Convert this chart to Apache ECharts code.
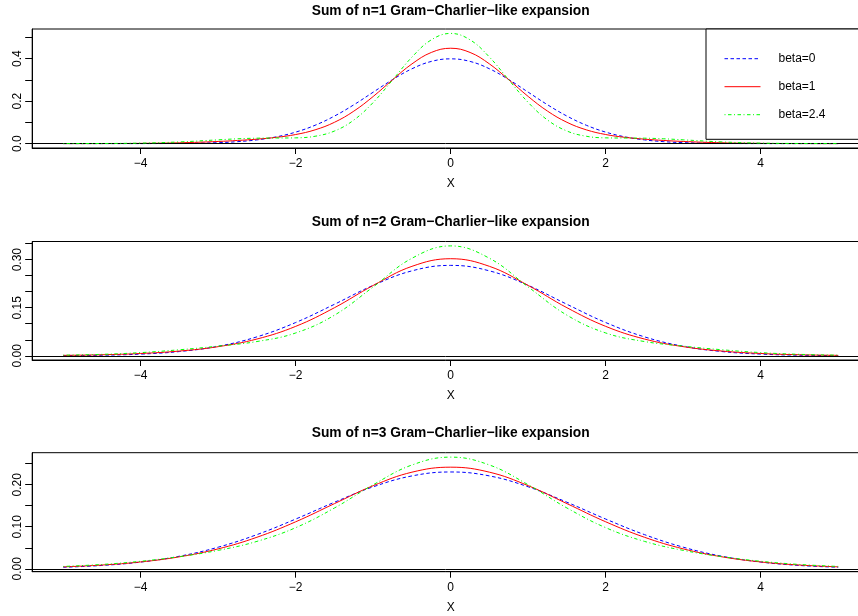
<!DOCTYPE html>
<html><head><meta charset="utf-8">
<script src="https://cdn.jsdelivr.net/npm/echarts@6/dist/echarts.min.js"></script>
<style>html,body{margin:0;padding:0;background:#fff}#c{width:858px;height:616px}</style>
</head><body><div id="c"></div>
<script>
// ---------- data ----------
const panelTitles = [
  'Sum of n=1 Gram\u2212Charlier\u2212like expansion',
  'Sum of n=2 Gram\u2212Charlier\u2212like expansion',
  'Sum of n=3 Gram\u2212Charlier\u2212like expansion'
];
const seriesNames = ['beta=0', 'beta=1', 'beta=2.4'];
const xLabelName = 'X';

const x1 = [-5,-4.5,-4,-3.5,-3,-2.75,-2.5,-2.25,-2,-1.75,-1.5,-1.25,-1,-0.75,-0.5,-0.25,0,
            0.25,0.5,0.75,1,1.25,1.5,1.75,2,2.25,2.5,2.75,3,3.5,4,4.5,5];
const blue1  = [0.0000,0.0000,0.0001,0.0009,0.0044,0.0091,0.0175,0.0317,0.0540,0.0863,0.1295,0.1826,0.2420,0.3011,0.3521,0.3867,0.3989,
                0.3867,0.3521,0.3011,0.2420,0.1826,0.1295,0.0863,0.0540,0.0317,0.0175,0.0091,0.0044,0.0009,0.0001,0.0000,0.0000];
const red1   = [0.0000,0.0002,0.0010,0.0038,0.0100,0.0147,0.0209,0.0294,0.0427,0.0647,0.1002,0.1527,0.2218,0.3004,0.3750,0.4290,0.4488,
                0.4290,0.3750,0.3004,0.2218,0.1527,0.1002,0.0647,0.0427,0.0294,0.0209,0.0147,0.0100,0.0038,0.0010,0.0002,0.0000];
const green1 = [0.0001,0.0005,0.0023,0.0078,0.0177,0.0226,0.0255,0.0262,0.0270,0.0345,0.0591,0.1108,0.1936,0.2994,0.4071,0.4883,0.5186,
                0.4883,0.4071,0.2994,0.1936,0.1108,0.0591,0.0345,0.0270,0.0262,0.0255,0.0226,0.0177,0.0078,0.0023,0.0005,0.0001];

const x23 = [-5,-4.5,-4,-3.5,-3,-2.5,-2,-1.5,-1,-0.5,0,0.5,1,1.5,2,2.5,3,3.5,4,4.5,5];
const blue2  = [0.0005,0.0018,0.0052,0.0132,0.0297,0.0591,0.1038,0.1607,0.2197,0.2650,0.2821,
                0.2650,0.2197,0.1607,0.1038,0.0591,0.0297,0.0132,0.0052,0.0018,0.0005];
const red2   = [0.0013,0.0032,0.0072,0.0148,0.0285,0.0523,0.0918,0.1500,0.2195,0.2791,0.3029,
                0.2791,0.2195,0.1500,0.0918,0.0523,0.0285,0.0148,0.0072,0.0032,0.0013];
const green2 = [0.0020,0.0045,0.0099,0.0188,0.0302,0.0445,0.0712,0.1267,0.2148,0.3043,0.3429,
                0.3043,0.2148,0.1267,0.0712,0.0445,0.0302,0.0188,0.0099,0.0045,0.0020];

const blue3  = [0.0036,0.0079,0.0160,0.0299,0.0514,0.0813,0.1183,0.1583,0.1950,0.2209,0.2303,
                0.2209,0.1950,0.1583,0.1183,0.0813,0.0514,0.0299,0.0160,0.0079,0.0036];
const red3   = [0.0046,0.0089,0.0163,0.0285,0.0474,0.0750,0.1118,0.1550,0.1977,0.2298,0.2417,
                0.2298,0.1977,0.1550,0.1118,0.0750,0.0474,0.0285,0.0163,0.0089,0.0046];
const green3 = [0.0056,0.0103,0.0179,0.0289,0.0438,0.0652,0.0978,0.1446,0.1999,0.2469,0.2656,
                0.2469,0.1999,0.1446,0.0978,0.0652,0.0438,0.0289,0.0179,0.0103,0.0056];

const xTicks = [-4, -2, 0, 2, 4];
const yTicks1 = [0, 0.1, 0.2, 0.3, 0.4, 0.5];
const yLabels1 = [0, 0.2, 0.4];
const yTicks2 = [0, 0.05, 0.10, 0.15, 0.20, 0.25, 0.30, 0.35];
const yLabels2 = [0, 0.15, 0.30];
const yTicks3 = [0, 0.05, 0.10, 0.15, 0.20, 0.25];
const yLabels3 = [0, 0.10, 0.20];

// ---------- layout / style ----------
const FONT = '"Liberation Sans", Arial, Helvetica, sans-serif';
const colors = ['#0000FF', '#FF0000', '#00FF00'];
const dashes = [[3.5, 2.5], 'solid', [1, 2.5, 3.5, 2.5]];
const panels = [
  {top: 29,    height: 119, xs: x1,  ys: [blue1, red1, green1], yMin: -0.02074, yMax: 0.53937, ticks: yTicks1, labels: yLabels1, dec: 1, titleY: 10},
  {top: 241.5, height: 118.5, xs: x23, ys: [blue2, red2, green2], yMin: -0.01315, yMax: 0.35662, ticks: yTicks2, labels: yLabels2, dec: 2, titleY: 221},
  {top: 452.7, height: 119, xs: x23, ys: [blue3, red3, green3], yMin: -0.00693, yMax: 0.27614, ticks: yTicks3, labels: yLabels3, dec: 2, titleY: 432.5}
];
const plotLeft = 32.2, plotWidth = 837;
const minus = v => (v < 0 ? '\u2212' + Math.abs(v) : String(v));

const grid = [], xAxis = [], yAxis = [], series = [], title = [];
panels.forEach((p, i) => {
  grid.push({left: plotLeft, width: plotWidth, top: p.top, height: p.height,
    outerBoundsMode: 'none',
    show: true, borderColor: '#000', borderWidth: 1, backgroundColor: 'transparent'});
  title.push({text: panelTitles[i], left: 450.7, textAlign: 'center', top: p.titleY - 6, padding: 0,
    textStyle: {fontFamily: FONT, fontSize: 13.8, fontWeight: 'bold', color: '#000'}});
  xAxis.push({type: 'value', gridIndex: i, min: -5.4, max: 5.4,
    name: xLabelName, nameLocation: 'middle', nameGap: 29.5,
    nameTextStyle: {fontFamily: FONT, fontSize: 12, color: '#000'},
    axisLine: {show: true, onZero: false, lineStyle: {color: '#000', width: 1}},
    axisTick: {show: true, length: 6, customValues: xTicks, lineStyle: {color: '#000'}},
    axisLabel: {show: true, customValues: xTicks, margin: 10, formatter: minus,
      fontFamily: FONT, fontSize: 12, color: '#000'},
    splitLine: {show: false}});
  yAxis.push({type: 'value', gridIndex: i, min: p.yMin, max: p.yMax,
    axisLine: {show: true, onZero: false, lineStyle: {color: '#000', width: 1}},
    axisTick: {show: true, length: 7, customValues: p.ticks, lineStyle: {color: '#000'}},
    axisLabel: {show: true, customValues: p.labels, rotate: 90, margin: 9,
      formatter: v => v.toFixed(p.dec), fontFamily: FONT, fontSize: 12, color: '#000'},
    splitLine: {show: false}});
  p.ys.forEach((ys, k) => {
    const s = {
      name: seriesNames[k], type: 'line', xAxisIndex: i, yAxisIndex: i,
      data: p.xs.map((x, j) => [x, ys[j]]),
      symbol: 'none', smooth: 0.4, animation: false, silent: true,
      lineStyle: {color: colors[k], width: 1, type: dashes[k]},
      itemStyle: {color: colors[k]}, z: 3 + k
    };
    if (k === 0) {
      s.markLine = {silent: true, symbol: 'none', animation: false, label: {show: false},
        lineStyle: {color: '#000', width: 1, type: 'solid'}, data: [{yAxis: 0}]};
    }
    series.push(s);
  });
});

const chart = echarts.init(document.getElementById('c'), null, {renderer: 'canvas'});
chart.setOption({
  animation: false,
  backgroundColor: '#fff',
  title: title,
  grid: grid, xAxis: xAxis, yAxis: yAxis, series: series,
  legend: {data: seriesNames, orient: 'vertical', left: 724, top: 52.7, padding: 0, z: 20,
    itemWidth: 36, itemHeight: 14, itemGap: 16, selectedMode: false,
    itemStyle: {opacity: 0, borderWidth: 0},
    lineStyle: {width: 1},
    textStyle: {fontFamily: FONT, fontSize: 12, color: '#000', padding: [0, 0, 0, 13]}},
  graphic: [{type: 'rect', shape: {x: 706, y: 29, width: 200, height: 110.3},
    style: {fill: '#fff', stroke: '#000', lineWidth: 1}, z: 1}]
});
</script></body></html>
